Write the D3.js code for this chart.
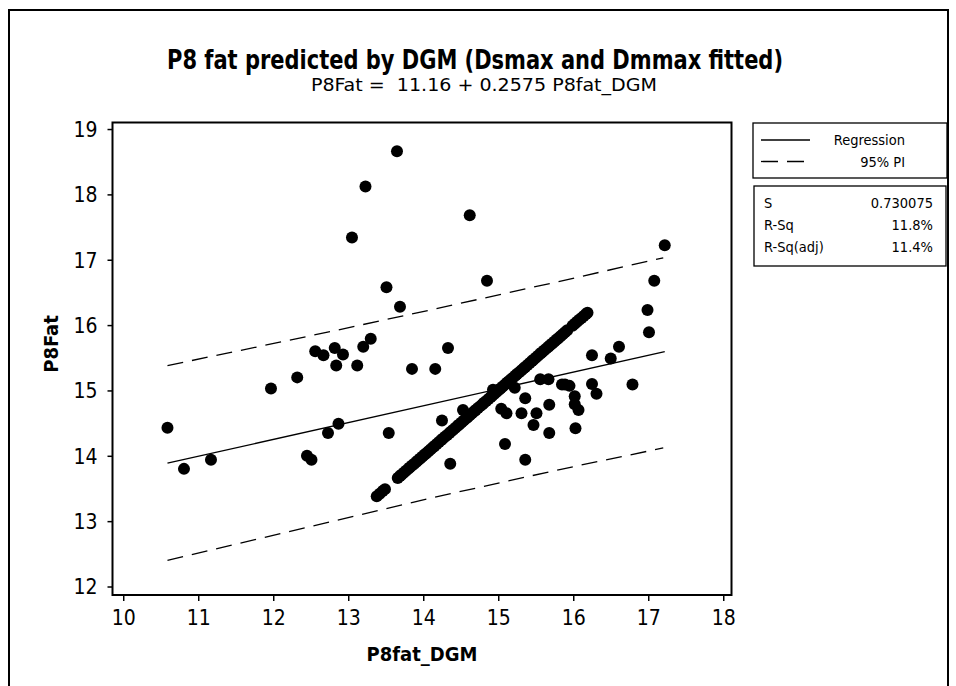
<!DOCTYPE html>
<html>
<head>
<meta charset="utf-8">
<script src="https://cdn.jsdelivr.net/npm/d3@7"></script>
<style>
  body { margin: 0; background: #fff; }
  text { font-family: "DejaVu Sans Condensed", "DejaVu Sans", sans-serif; fill: #000; }
</style>
</head>
<body>
<svg id="chart" width="956" height="686"></svg>
<script>
// Axis ticks
const xTicks = [10, 11, 12, 13, 14, 15, 16, 17, 18];
const yTicks = [12, 13, 14, 15, 16, 17, 18, 19];

// Observations away from the identity line (P8fat_DGM, P8Fat)
const scatterX = [10.59, 10.81, 11.17, 11.97, 12.32, 12.45, 12.51, 12.56, 12.67, 12.73,
  12.82, 12.84, 12.87, 12.93, 13.05, 13.12, 13.20, 13.23, 13.30, 13.51,
  13.54, 13.65, 13.69, 13.85, 14.16, 14.25, 14.33, 14.36, 14.53, 14.62,
  14.85, 14.93, 15.04, 15.11, 15.09, 15.22, 15.31, 15.36, 15.36, 15.47,
  15.51, 15.56, 15.67, 15.68, 15.68, 15.85, 15.89, 15.95, 16.02, 16.02,
  16.07, 16.03, 16.25, 16.31, 16.25, 16.50, 16.61, 16.79, 17.01, 16.99,
  17.08, 17.22];
const scatterY = [14.43, 13.80, 13.94, 15.03, 15.20, 14.00, 13.94, 15.60, 15.54, 14.35,
  15.65, 15.38, 14.49, 15.55, 17.34, 15.38, 15.67, 18.12, 15.79, 16.58,
  14.35, 18.66, 16.28, 15.33, 15.33, 14.54, 15.65, 13.88, 14.70, 17.68,
  16.68, 15.01, 14.72, 14.65, 14.18, 15.04, 14.65, 14.88, 13.94, 14.47,
  14.65, 15.17, 15.17, 14.78, 14.35, 15.09, 15.09, 15.07, 14.91, 14.79,
  14.70, 14.42, 15.10, 14.95, 15.54, 15.49, 15.67, 15.09, 15.89, 16.23,
  16.68, 17.22];

// Observations where P8Fat equals P8fat_DGM (plotted as value, value)
const identityValues = [13.38, 13.42, 13.46, 13.49,
  13.66, 13.69, 13.71, 13.74, 13.77, 13.80, 13.82, 13.85, 13.88, 13.91, 13.93, 13.96,
  13.99, 14.02, 14.04, 14.07, 14.10, 14.13, 14.15, 14.18, 14.21, 14.24, 14.26, 14.29,
  14.32, 14.35, 14.37, 14.40, 14.43, 14.46, 14.48, 14.51, 14.54, 14.57, 14.59, 14.62,
  14.65, 14.68, 14.70, 14.73, 14.76, 14.79, 14.81, 14.84, 14.87, 14.90, 14.92, 14.95,
  14.98, 15.01, 15.03, 15.06, 15.09, 15.12, 15.14, 15.17, 15.20, 15.23, 15.25, 15.28,
  15.31, 15.34, 15.36, 15.39, 15.42, 15.45, 15.47, 15.50, 15.53, 15.56, 15.58, 15.61,
  15.64, 15.67, 15.69, 15.72, 15.75, 15.78, 15.80, 15.83, 15.86, 15.89, 15.92,
  15.99, 16.02, 16.05, 16.08, 16.11, 16.14, 16.17, 16.19];

// Fitted regression: P8Fat = 11.16 + 0.2575 P8fat_DGM
const fitIntercept = 11.16;
const fitSlope = 0.2575;
const fitRange = [10.59, 17.22];

// 95% prediction interval bounds
const piX = [10.59, 12.76, 14.09, 15.82, 17.20];
const piUpper = [15.38, 15.90, 16.23, 16.67, 17.03];
const piLower = [12.40, 12.99, 13.35, 13.79, 14.12];

// Legend and summary statistics
const legendLabels = ["Regression", "95% PI"];
const statLabels = ["S", "R-Sq", "R-Sq(adj)"];
const statValues = ["0.730075", "11.8%", "11.4%"];

const svg = d3.select("#chart");

// Outer border
svg.append("rect").attr("x", 9).attr("y", 10).attr("width", 939).attr("height", 700)
  .attr("fill", "none").attr("stroke", "#000").attr("stroke-width", 2);

const plotLeft = 112.5, plotRight = 731.5, plotTop = 122.5, plotBottom = 595;
const x = d3.scaleLinear().domain([9.857, 18.11]).range([plotLeft, plotRight]);
const y = d3.scaleLinear().domain([11.87, 19.10]).range([plotBottom, plotTop]);

// Titles
svg.append("text").attr("x", 475).attr("y", 69).attr("text-anchor", "middle")
  .attr("font-size", 26).attr("font-weight", "bold")
  .attr("textLength", 616).attr("lengthAdjust", "spacingAndGlyphs")
  .text("P8 fat predicted by DGM (Dsmax and Dmmax fitted)");
svg.append("text").attr("x", 484).attr("y", 91).attr("text-anchor", "middle")
  .attr("font-size", 18).style("white-space", "pre")
  .attr("textLength", 346).attr("lengthAdjust", "spacingAndGlyphs")
  .text("P8Fat =  11.16 + 0.2575 P8fat_DGM");

// Axes
const xAxis = svg.append("g").attr("transform", `translate(0,${plotBottom})`)
  .call(d3.axisBottom(x).tickValues(xTicks).tickSize(6).tickSizeOuter(0).tickPadding(9));
const yAxis = svg.append("g").attr("transform", `translate(${plotLeft},0)`)
  .call(d3.axisLeft(y).tickValues(yTicks).tickSize(5).tickSizeOuter(0).tickPadding(10));
[xAxis, yAxis].forEach(g => {
  g.select(".domain").remove();
  g.selectAll(".tick line").attr("stroke", "#000").attr("stroke-width", 1.5);
  g.selectAll(".tick text").attr("font-size", 21).attr("font-family", "\"DejaVu Sans Condensed\", \"DejaVu Sans\", sans-serif").attr("fill", "#000");
});
yAxis.selectAll(".tick text").attr("dy", "0.35em");

// Plot frame
svg.append("rect").attr("x", plotLeft).attr("y", plotTop)
  .attr("width", plotRight - plotLeft).attr("height", plotBottom - plotTop)
  .attr("fill", "none").attr("stroke", "#000").attr("stroke-width", 2);

// Axis titles
svg.append("text").attr("x", (plotLeft + plotRight) / 2).attr("y", 661).attr("text-anchor", "middle")
  .attr("font-size", 20).attr("font-weight", "bold").text("P8fat_DGM");
svg.append("text").attr("transform", "translate(58,344) rotate(-90)").attr("text-anchor", "middle")
  .attr("font-size", 20).attr("font-weight", "bold").text("P8Fat");

// Prediction interval
const piLine = d3.line().x(d => x(d[0])).y(d => y(d[1]));
[piUpper, piLower].forEach(vals => {
  svg.append("path").datum(piX.map((v, i) => [v, vals[i]]))
    .attr("d", piLine).attr("fill", "none").attr("stroke", "#000")
    .attr("stroke-width", 1.3).attr("stroke-dasharray", "16,9");
});

// Regression line
svg.append("path").datum(fitRange.map(v => [v, fitIntercept + fitSlope * v]))
  .attr("d", piLine).attr("fill", "none").attr("stroke", "#000").attr("stroke-width", 1.3);

// Points
const pts = scatterX.map((v, i) => [v, scatterY[i]]).concat(identityValues.map(v => [v, v]));
svg.append("g").selectAll("circle").data(pts).join("circle")
  .attr("cx", d => x(d[0])).attr("cy", d => y(d[1])).attr("r", 6).attr("fill", "#000");

// Legend
svg.append("rect").attr("x", 753).attr("y", 123).attr("width", 194).attr("height", 55)
  .attr("fill", "#fff").attr("stroke", "#000").attr("stroke-width", 1.3);
svg.append("line").attr("x1", 761).attr("x2", 810).attr("y1", 140).attr("y2", 140)
  .attr("stroke", "#000").attr("stroke-width", 1.3);
svg.append("line").attr("x1", 761).attr("x2", 804).attr("y1", 161.5).attr("y2", 161.5)
  .attr("stroke", "#000").attr("stroke-width", 1.3).attr("stroke-dasharray", "17,9");
svg.append("text").attr("x", 905).attr("y", 145).attr("text-anchor", "end")
  .attr("font-size", 14.5).text(legendLabels[0]);
svg.append("text").attr("x", 905).attr("y", 166.5).attr("text-anchor", "end")
  .attr("font-size", 14.5).text(legendLabels[1]);

// Summary statistics box
svg.append("rect").attr("x", 754).attr("y", 186).attr("width", 192).attr("height", 80)
  .attr("fill", "#fff").attr("stroke", "#000").attr("stroke-width", 1.3);
statLabels.forEach((lab, i) => {
  svg.append("text").attr("x", 764).attr("y", 208 + i * 22).attr("font-size", 14.5).text(lab);
  svg.append("text").attr("x", 933).attr("y", 208 + i * 22).attr("text-anchor", "end")
    .attr("font-size", 14.5).text(statValues[i]);
});
</script>
</body>
</html>
